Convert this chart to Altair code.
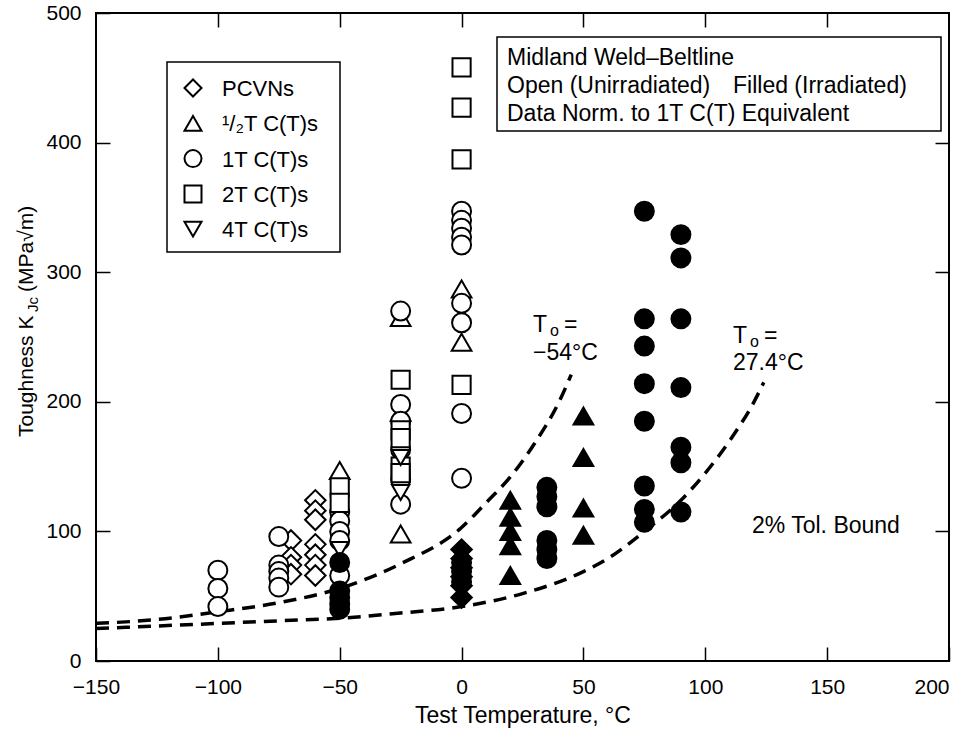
import altair as alt
import pandas as pd

# ---------------- data ----------------
spec_names = ["PCVNs", "¹/₂T C(T)s", "1T C(T)s", "2T C(T)s", "4T C(T)s"]
spec_shapes = ["diamond", "triangle-up", "circle", "square", "triangle-down"]
spec_sizes = [420, 300, 290, 200, 300]

# open symbols (unirradiated)
pcvn_open_T = [-70, -70, -70, -70, -60, -60, -60, -60, -60, -60, -60]
pcvn_open_K = [93, 80, 74, 67, 124, 116, 109, 90, 82, 74, 66]

half_open_T = [-50, -25, -25, -25, 0, 0]
half_open_K = [147, 265, 192, 98, 287, 246]

one_open_T = [-100, -100, -100, -75, -75, -75, -75, -75,
              -50, -50, -50, -50, -50,
              -25, -25, -25, -25, -25, -25,
              0, 0, 0, 0, 0, 0, 0, 0, 0]
one_open_K = [70, 56, 42, 96, 74, 69, 64, 57,
              115, 108, 100, 93, 66,
              270, 198, 185, 163, 140, 121,
              347, 340, 334, 327, 321, 276, 261, 191, 141]

two_open_T = [-50, -50, -25, -25, -25, -25, -25, 0, 0, 0, 0]
two_open_K = [134, 122, 217, 178, 172, 150, 145, 458, 427, 387, 213]

four_open_T = [-50, -25, -25]
four_open_K = [86, 157, 130]

# filled symbols (irradiated)
pcvn_fill_T = [0, 0, 0, 0, 0, 0]
pcvn_fill_K = [86, 79, 72, 65, 58, 49]

half_fill_T = [20, 20, 20, 20, 20, 50, 50, 50, 50]
half_fill_K = [124, 111, 100, 89, 66, 189, 157, 118, 97]

one_fill_T = [-50, -50, -50, -50, -50, 0, 0, 0,
              35, 35, 35, 35, 35, 35,
              75, 75, 75, 75, 75, 75, 75, 75,
              90, 90, 90, 90, 90, 90, 90]
one_fill_K = [76, 54, 49, 44, 40, 76, 69, 61,
              134, 127, 119, 93, 86, 79,
              347, 264, 243, 214, 185, 135, 117, 107,
              329, 311, 264, 211, 165, 153, 115]

# dashed tolerance-bound curves
curveA_T = [-150, -125, -100, -75, -50, -25, 0, 10, 20, 30, 40, 45]
curveA_K = [29, 32, 38, 45, 56, 75, 103, 122, 142, 168, 200, 221]
curveB_T = [-150, -125, -100, -75, -50, -25, 0, 25, 50, 60, 75, 90, 100, 110, 120, 124]
curveB_K = [25, 27, 29, 31, 33, 37, 42, 52, 69, 79, 100, 124, 145, 170, 200, 215]

x_ticks = [-150, -100, -50, 0, 50, 100, 150, 200]
y_ticks = [0, 100, 200, 300, 400, 500]

# ---------------- tables ----------------
rows = []
def add(T, K, spec, state):
    for t, k in zip(T, K):
        rows.append({"T": t, "K": k, "Specimen": spec, "SizeKey": spec, "State": state})

add(pcvn_open_T, pcvn_open_K, spec_names[0], "Unirradiated")
add(half_open_T, half_open_K, spec_names[1], "Unirradiated")
add(one_open_T, one_open_K, spec_names[2], "Unirradiated")
add(two_open_T, two_open_K, spec_names[3], "Unirradiated")
add(four_open_T, four_open_K, spec_names[4], "Unirradiated")
add(pcvn_fill_T, pcvn_fill_K, spec_names[0], "Irradiated")
add(half_fill_T, half_fill_K, spec_names[1], "Irradiated")
add(one_fill_T, one_fill_K, spec_names[2], "Irradiated")
pts = pd.DataFrame(rows)

curves = pd.DataFrame(
    [{"T": t, "K": k, "curve": "A"} for t, k in zip(curveA_T, curveA_K)]
    + [{"T": t, "K": k, "curve": "B"} for t, k in zip(curveB_T, curveB_K)]
)

FONT = "Liberation Sans"
W, H = 853, 648
xscale = alt.Scale(domain=[-150, 200], nice=False, zero=False)
yscale = alt.Scale(domain=[0, 500], nice=False, zero=False)

bottom_axis = alt.Axis(orient="bottom", values=x_ticks, format="d", offset=-14,
                       tickSize=14, domain=False, grid=False, labelPadding=15,
                       labelFontSize=21, labelOverlap=False, labelFlush=False,
                       labelAlign={"condition": {"test": "datum.value == 200", "value": "right"},
                                   "value": "center"},
                       title="Test Temperature, °C", titleFontSize=23,
                       titleFontWeight="normal", titlePadding=7)
left_axis = alt.Axis(orient="left", values=y_ticks, format="d", offset=-14,
                     tickSize=14, domain=False, grid=False, labelPadding=15,
                     labelFontSize=21, labelOverlap=False, labelFlush=False,
                     title=None)
top_axis = alt.Axis(orient="top", values=x_ticks[1:-1], offset=-14, tickSize=14,
                    domain=False, grid=False, labels=False, title=None)
right_axis = alt.Axis(orient="right", values=y_ticks[1:-1], offset=-14, tickSize=14,
                      domain=False, grid=False, labels=False, title=None)

points = alt.Chart(pts).mark_point(
    filled=True, stroke="black", strokeWidth=2, opacity=1
).encode(
    x=alt.X("T:Q", scale=xscale, axis=bottom_axis),
    y=alt.Y("K:Q", scale=yscale, axis=left_axis),
    shape=alt.Shape("Specimen:N", scale=alt.Scale(domain=spec_names, range=spec_shapes),
                    legend=None),
    size=alt.Size("SizeKey:N", scale=alt.Scale(domain=spec_names, range=spec_sizes),
                  legend=None),
    fill=alt.Fill("State:N", scale=alt.Scale(domain=["Unirradiated", "Irradiated"],
                                             range=["white", "black"]), legend=None),
)

lines = alt.Chart(curves).mark_line(
    color="black", strokeWidth=3.5, strokeDash=[13, 8], interpolate="monotone"
).encode(
    x=alt.X("T:Q", scale=xscale, axis=top_axis),
    y=alt.Y("K:Q", scale=yscale, axis=right_axis),
    detail="curve:N",
)

def label(text, x, y, size=22, angle=0):
    return alt.Chart(pd.DataFrame({"t": [text]})).mark_text(
        align="left", baseline="alphabetic", font=FONT, fontSize=size,
        color="black", angle=angle
    ).encode(x=alt.value(x), y=alt.value(y), text="t:N")

def frame(x, x2, y, y2):
    return alt.Chart(pd.DataFrame({"b": [1]})).mark_rect(
        fill="white", stroke="black", strokeWidth=1.5
    ).encode(x=alt.value(x), x2=alt.value(x2), y=alt.value(y), y2=alt.value(y2))

# legend (drawn as a key box in the upper-left)
legend_parts = [frame(71, 244, 49, 239)]
for i, (name, shp) in enumerate(zip(spec_names, spec_shapes)):
    cy = 75 + i * 35.3
    legend_parts.append(
        alt.Chart(pd.DataFrame({"s": [name]})).mark_point(
            shape=shp, size=289, filled=True, fill="white", stroke="black",
            strokeWidth=2, opacity=1
        ).encode(x=alt.value(97), y=alt.value(cy))
    )
    legend_parts.append(label(name, 126, cy + 8, 22))

texts = [
    label("Midland Weld–Beltline", 411, 52, 23),
    label("Open (Unirradiated)", 411, 80, 23),
    label("Filled (Irradiated)", 637, 80, 23),
    label("Data Norm. to 1T C(T) Equivalent", 411, 108, 23),
    label("T", 437, 319, 23), label("o", 454, 323, 16), label("=", 468, 319, 23),
    label("−54°C", 437, 347, 23),
    label("T", 637, 330, 23), label("o", 654, 334, 16), label("=", 668, 330, 23),
    label("27.4°C", 637, 357, 23),
    label("2% Tol. Bound", 656, 520, 23),
    label("Toughness K", -63, 424, 21, 270),
    label("Jc", -58, 299, 15, 270),
    label("(MPa√m)", -63, 279, 21, 270),
]

chart = alt.layer(lines, points, frame(401, 845, 24, 118), *legend_parts, *texts).resolve_axis(
    x="independent", y="independent"
).properties(
    width=W, height=H,
    autosize=alt.AutoSizeParams(type="none"),
    padding={"left": 96, "top": 13, "right": 14, "bottom": 73},
    background="white",
).configure_view(
    stroke="black", strokeWidth=2
).configure_axis(
    labelFont=FONT, titleFont=FONT, labelColor="black", titleColor="black",
    tickColor="black", tickWidth=1.5
)

chart.save("out.html", embed_options={"renderer": "svg", "actions": False})
